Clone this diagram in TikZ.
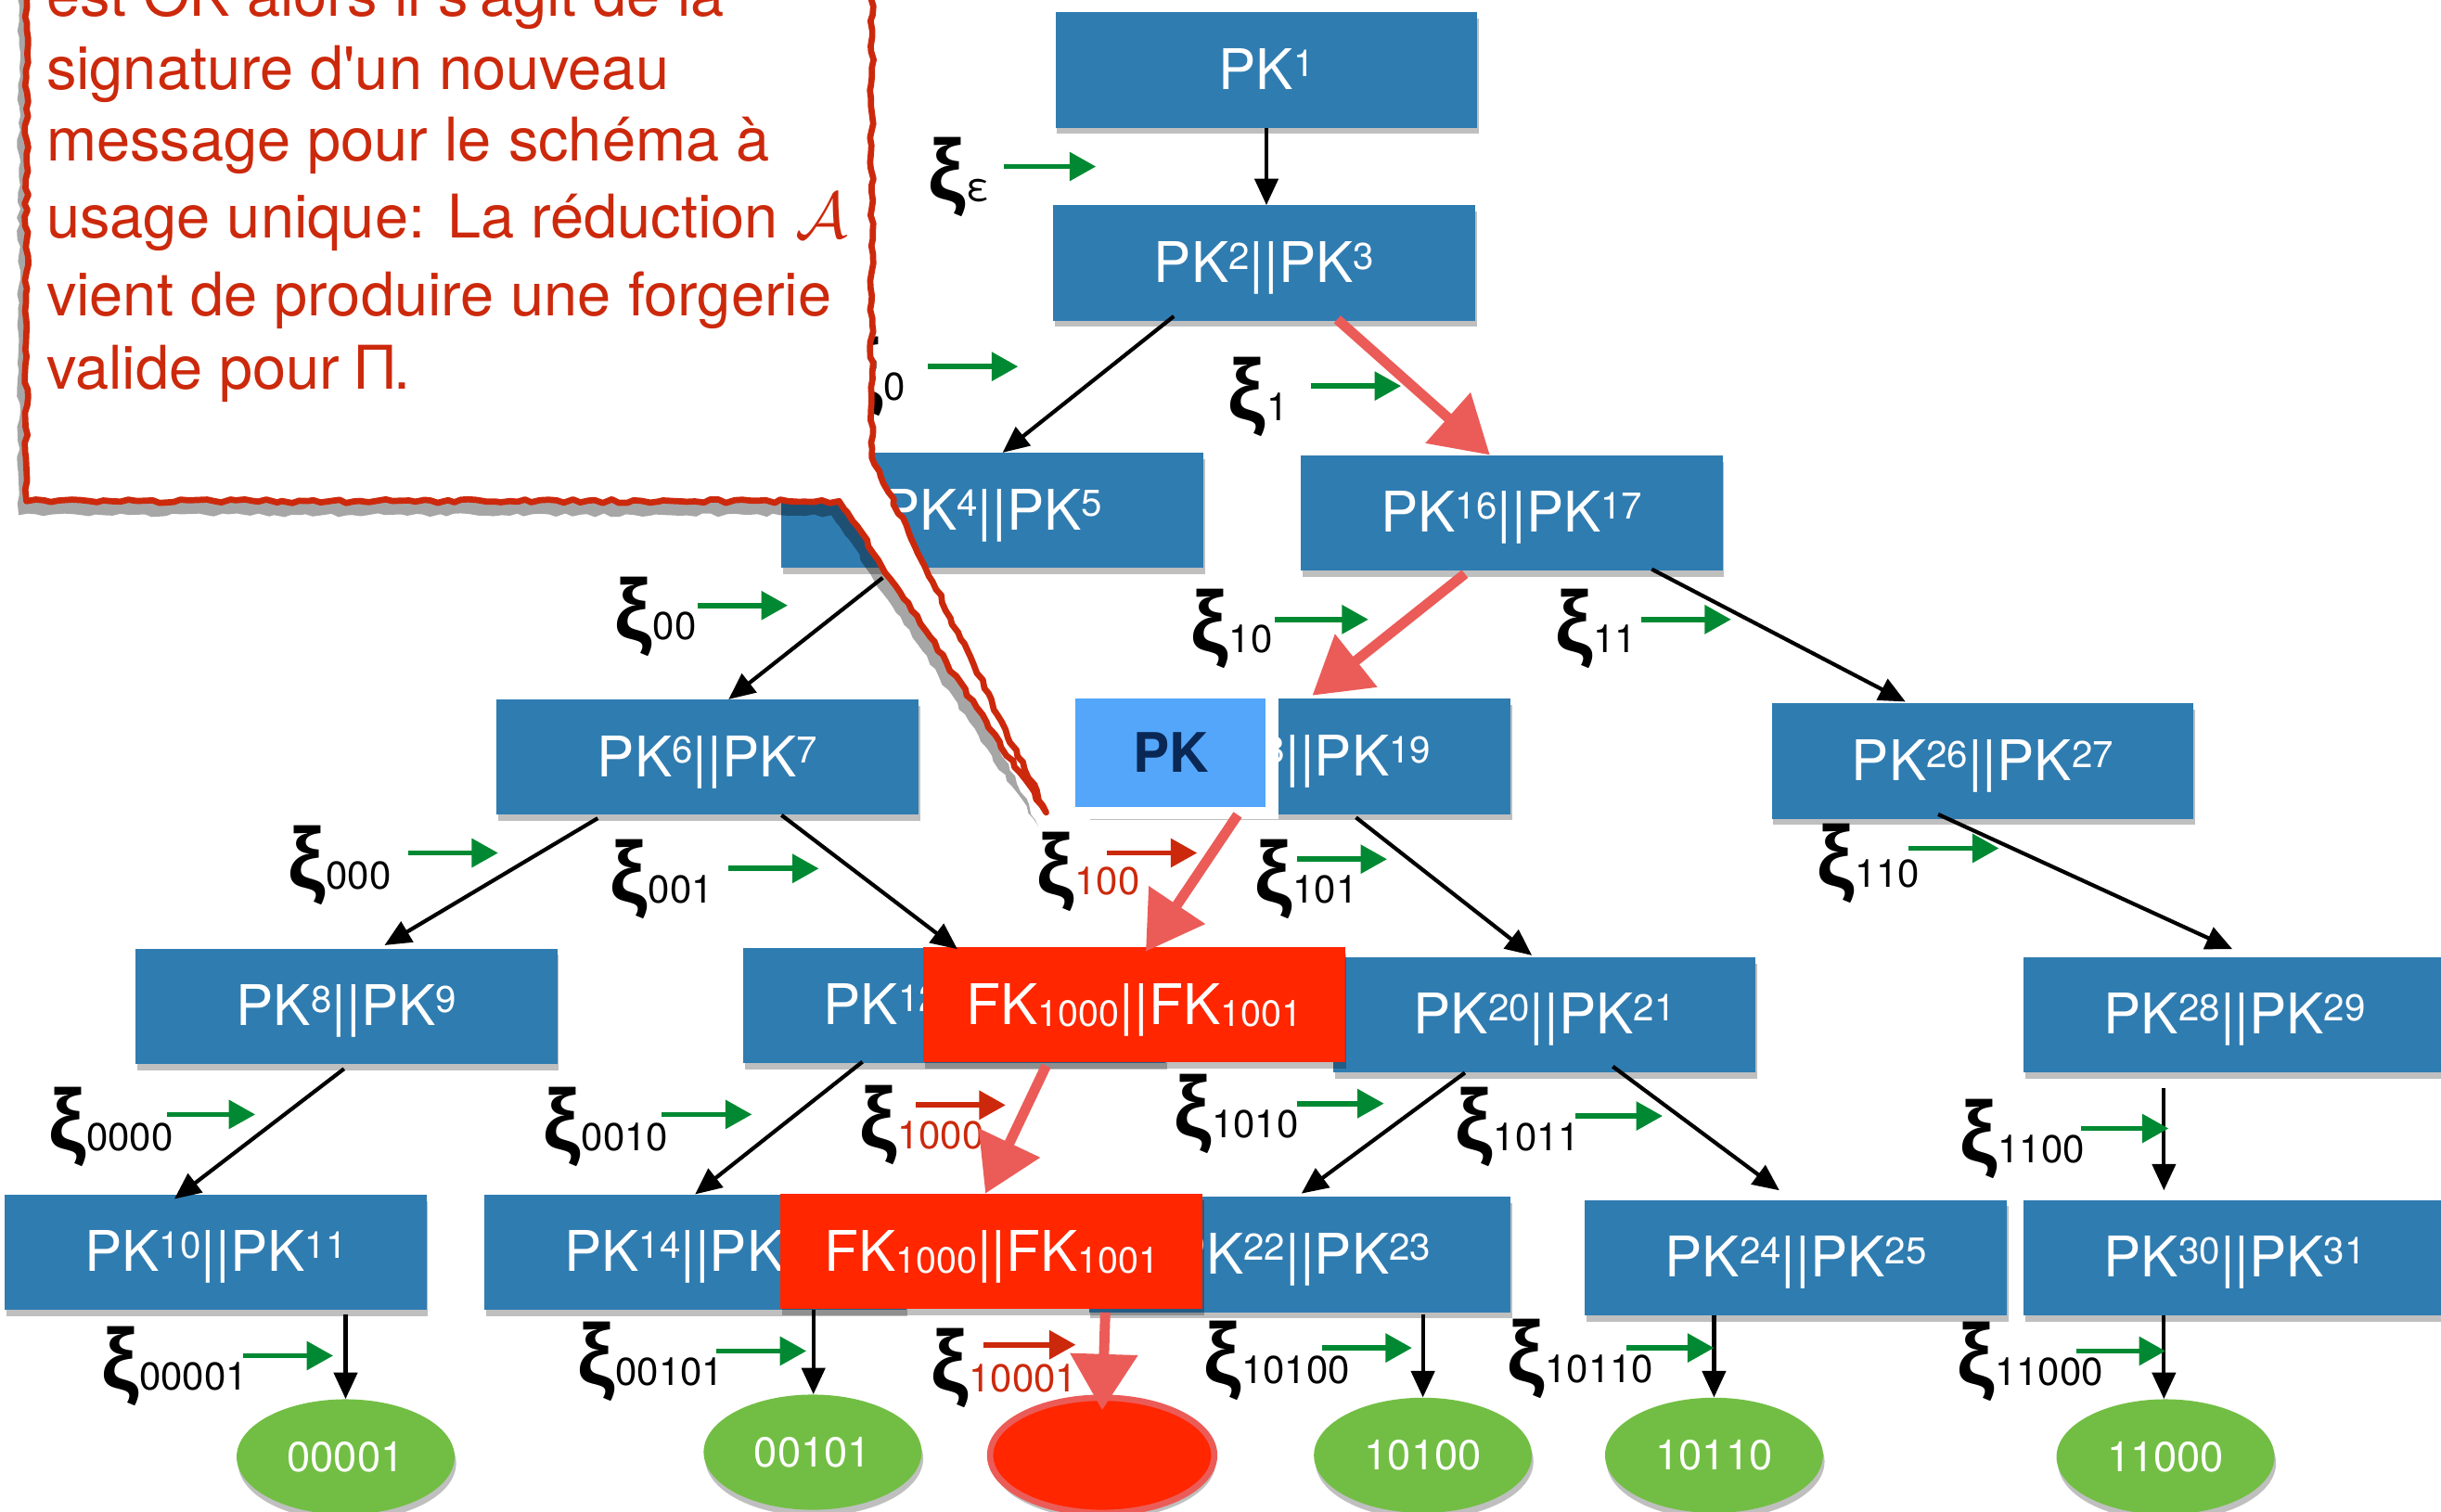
\documentclass[tikz,border=0pt]{standalone}
\usepackage{fontspec}
\setmainfont{TeX Gyre Heros}
\newfontfamily\xifont{Liberation Sans}
\newfontfamily\calfont{TeX Gyre Heros}[Ligatures=TeXOff]
\usetikzlibrary{arrows.meta,shadows,calc,decorations.pathmorphing,shapes.geometric}
\definecolor{pkblue}{RGB}{47,124,177}
\definecolor{fkred}{RGB}{255,38,0}
\definecolor{leafgreen}{RGB}{114,190,68}
\definecolor{arrgreen}{RGB}{0,137,50}
\definecolor{calred}{RGB}{204,41,12}
\definecolor{sketchred}{RGB}{235,92,88}
\definecolor{ovblue}{RGB}{84,166,250}
\definecolor{ovtext}{RGB}{10,40,85}
\newsavebox\xibox
\sbox\xibox{\xifont\bfseries\fontsize{48}{48}\selectfont ξ}
\newcommand\supn[1]{\raisebox{8.6pt}{\fontsize{24}{24}\selectfont #1}}
\newcommand\subn[1]{\raisebox{-1.5pt}{\fontsize{23.5}{24}\selectfont #1}}
\newcommand\pkp[2]{PK\supn{#1}||PK\supn{#2}}
\newcommand\fkp{FK\subn{1000}||FK\subn{1001}}
\newcommand\xig{\raisebox{-10.5pt}{\resizebox*{24pt}{51pt}{\raisebox{\dp\xibox}{\usebox\xibox}}}}
\newcommand\xil[1]{\xig\kern0.5pt{\fontsize{25}{25}\selectfont #1}}
\newcommand\bigA{{\fontsize{10}{12}\selectfont\scalebox{4.2}{$\mathcal{A}$}}}
\begin{document}
\begin{tikzpicture}[x=1pt,y=-1pt,
  boxshadow/.style={drop shadow={shadow xshift=1pt,shadow yshift=-4pt,opacity=0.25,fill=black}},
  pkbox/.style={rectangle,fill=pkblue,text=white,minimum width=271pt,minimum height=74pt,inner sep=0pt,
    text height=33pt,text depth=8pt,font=\fontsize{36}{40}\selectfont,boxshadow},
  fkbox/.style={pkbox,fill=fkred},
  leaf/.style={ellipse,fill=leafgreen,text=white,minimum width=140pt,minimum height=74pt,inner sep=0pt,
    font=\fontsize{27}{30}\selectfont,boxshadow},
  lab/.style={anchor=base west,inner sep=0pt,outer sep=0pt,text=black},
  redlab/.style={lab,text=calred},
  barrow/.style={draw=black,line width=2.5pt,-{Triangle[length=17pt,width=15pt]}},
  garrow/.style={draw=arrgreen,line width=3.4pt,-{Triangle[length=17pt,width=18pt]}},
  rarrow/.style={draw=calred,line width=3.4pt,-{Triangle[length=17pt,width=18pt]}},
  sarrow/.style={draw=sketchred,line width=6.5pt,-{Triangle[length=36pt,width=42pt]}},
  calltext/.style={anchor=base west,inner sep=0pt,text=calred,font=\calfont\fontsize{38.7}{40}\selectfont}
]
\useasboundingbox (0,0) rectangle (1568,971);
\fill[white] (0,0) rectangle (1568,971);
\pgfmathsetseed{7}

% ---- PK boxes
\node[pkbox] (pk1) at (813.5,45) {PK\supn{1}};
\node[pkbox] (pk2) at (812,169) {\pkp{2}{3}};
\node[pkbox] (pk4) at (637.5,328) {\pkp{4}{5}};
\node[pkbox] (pk16) at (971,329.5) {\pkp{16}{17}};
\node[pkbox] (pk6) at (454.5,486.5) {\pkp{6}{7}};
\node[pkbox] (pk18) at (835,486) {\pkp{18}{19}};
\node[pkbox] (pk26) at (1273.5,489) {\pkp{26}{27}};
\node[pkbox] (pk8) at (222.5,646.5) {\pkp{8}{9}};
\node[pkbox] (pk12) at (613,646) {\pkp{12}{13}};
\node[pkbox] (pk20) at (992,652) {\pkp{20}{21}};
\node[pkbox] (pk28) at (1435.5,652) {\pkp{28}{29}};
\node[pkbox] (pk10) at (138.5,804.5) {\pkp{10}{11}};
\node[pkbox] (pk14) at (446.5,804.5) {\pkp{14}{15}};
\node[pkbox] (pk22) at (835,806) {\pkp{22}{23}};
\node[pkbox] (pk24) at (1153.5,808) {\pkp{24}{25}};
\node[pkbox] (pk30) at (1435.5,808) {\pkp{30}{31}};
\node[fkbox] (fk1) at (728.5,645.5) {\fkp};
\node[fkbox] (fk2) at (637,804) {\fkp};

% ---- leaves
\node[leaf] (e1) at (222,936) {00001};
\node[leaf] (e2) at (522,933) {00101};
\node[ellipse,fill=fkred,draw=sketchred,line width=4pt,minimum width=144pt,minimum height=74pt,inner sep=0pt,boxshadow] (blob) at (708,935) {};
\node[leaf] (e3) at (914,935) {10100};
\node[leaf] (e4) at (1101,935) {10110};
\node[leaf] (e5) at (1391,936) {11000};

% ---- black connectors
\draw[barrow] (pk1.south) -- (pk1.south |- pk2.north);
\draw[barrow] ($(pk2.south)+(-58,-3)$) -- ($(pk4.north)+(6.5,0)$);
\draw[barrow] ($(pk4.south)+(-70.5,6)$) -- ($(pk6.north)+(13.5,0)$);
\draw[barrow] ($(pk16.south)+(90,-1)$) -- ($(pk26.north)+(-49.5,-1)$);
\draw[barrow] ($(pk6.south)+(-70.5,2)$) -- ($(pk8.north)+(24.5,-2)$);
\draw[barrow] ($(pk6.south)+(47.5,0)$) -- ($(pk12.north)+(2,1)$);
\draw[barrow] ($(pk18.south)+(36,2)$) -- ($(pk20.north)+(-8,-1)$);
\draw[barrow] ($(pk26.south)+(-28.5,-3)$) -- ($(pk28.north)+(-1.5,-5)$);
\draw[barrow] ($(pk8.south)+(-1.5,3)$) -- ($(pk10.north)+(-26.5,3)$);
\draw[barrow] ($(pk12.south)+(-59,-1)$) -- ($(pk14.north)+(0,0)$);
\draw[barrow] ($(pk20.south)+(-51,0)$) -- ($(pk22.north)+(1,-2)$);
\draw[barrow] ($(pk20.south)+(44,-4)$) -- ($(pk24.north)+(-10.5,-6)$);
\draw[barrow] ($(pk28.south)+(-45.5,10)$) -- ($(pk30.north)+(-45.5,-6)$);
\draw[barrow] ($(pk10.south)+(83.5,3)$) -- (e1.north);
\draw[barrow] ($(pk14.south)+(76,0)$) -- ($(e2.north)+(0.5,0)$);
\draw[barrow] ($(pk22.south)+(79,1)$) -- (e3.north);
\draw[barrow] ($(pk24.south)+(-52.5,0)$) -- (e4.north);
\draw[barrow] ($(pk30.south)+(-45.5,0)$) -- ($(e5.north)+(-1,0)$);

% ---- labels
\node[lab] (lxe) at (596,129) {\xil{ε}};
\node[lab] (l0) at (543,257) {\xil{0}};
\node[lab] (l1) at (789,270) {\xil{1}};
\node[lab] (l00) at (395,411) {\xil{00}};
\node[lab] (l10) at (765,419) {\xil{10}};
\node[lab] (l11) at (999,419) {\xil{11}};
\node[lab] (l000) at (185,571) {\xil{000}};
\node[lab] (l001) at (392,580) {\xil{001}};
\node[redlab] (l100) at (666,575) {\xil{100}};
\node[lab] (l101) at (806,580) {\xil{101}};
\node[lab] (l110) at (1167,570) {\xil{110}};
\node[lab] (l0000) at (31,739) {\xil{0000}};
\node[lab] (l0010) at (349,739) {\xil{0010}};
\node[redlab] (l1000) at (552,738) {\xil{1000}};
\node[lab] (l1010) at (754,731) {\xil{1010}};
\node[lab] (l1011) at (935,739) {\xil{1011}};
\node[lab] (l1100) at (1259,747) {\xil{1100}};
\node[lab] (l00001) at (65,893) {\xil{00001}};
\node[lab] (l00101) at (371,890) {\xil{00101}};
\node[redlab] (l10001) at (598,894) {\xil{10001}};
\node[lab] (l10100) at (773,889) {\xil{10100}};
\node[lab] (l10110) at (968,888) {\xil{10110}};
\node[lab] (l11000) at (1257,890) {\xil{11000}};

% ---- small arrows next to labels
\draw[garrow] (645,107) -- (704,107);
\draw[garrow] (596,235.5) -- (654,235.5);
\draw[garrow] (842,248) -- (900,248);
\draw[garrow] (448,389) -- (506,389);
\draw[garrow] (819,398) -- (879,398);
\draw[garrow] (1054,398) -- (1112,398);
\draw[garrow] (262,548) -- (320,548);
\draw[garrow] (468,558) -- (526,558);
\draw[rarrow] (711,548) -- (769,548);
\draw[garrow] (833,552) -- (891,552);
\draw[garrow] (1226,545) -- (1284,545);
\draw[garrow] (107,716) -- (164,716);
\draw[garrow] (425,716) -- (483,716);
\draw[rarrow] (588,710) -- (646,710);
\draw[garrow] (833,709) -- (889,709);
\draw[garrow] (1012,717) -- (1068,717);
\draw[garrow] (1337,725) -- (1393,725);
\draw[garrow] (156,871) -- (214,871);
\draw[garrow] (460,868) -- (518,868);
\draw[rarrow] (632,864) -- (691,864);
\draw[garrow] (849,866) -- (907,866);
\draw[garrow] (1045,866) -- (1101,866);
\draw[garrow] (1334,868) -- (1391,868);

% ---- highlighted PK
\node[rectangle,fill=ovblue,draw=white,line width=8pt,minimum width=130pt,minimum height=78pt,inner sep=0pt,
  text=ovtext,font=\fontsize{35}{40}\bfseries\selectfont,
  drop shadow={shadow xshift=1pt,shadow yshift=-4pt,opacity=0.3,fill=black}] (pkov) at (752,483.5) {PK};

% ---- sketched red arrows
\draw[sarrow] ($(pk2.south)+(47,-1)$) -- ($(pk16.north)+(-14,0)$);
\draw[sarrow] ($(pk16.south)+(-30,2)$) -- ($(pk18.north)+(8,-2)$);
\draw[sarrow] ($(pkov.south)+(43,-3)$) -- ($(fk1.north)+(7.5,3)$);
\draw[sarrow] ($(fk1.south)+(-56.5,2)$) -- ($(fk2.north)+(-4,0)$);
\draw[sarrow] ($(fk2.south)+(73,2)$) -- ($(blob.north)+(0,10)$);

% ---- callout
\draw[calred,line width=4pt,fill=white,line join=round,
  decorate,decoration={random steps,segment length=5pt,amplitude=1.2pt},
  drop shadow={shadow xshift=-5pt,shadow yshift=-9pt,opacity=0.35,fill=black}]
  (17,-40) -- (17,322) -- (539,322) -- (672,522) -- (560,294) -- (560,-40) -- cycle;
\node[calltext] (c0) at (29.6,10.6) {est OK alors il s'agit de la};
\node[calltext] (c1) at (29.6,57.5) {signature d'un nouveau};
\node[calltext] (c2) at (29.6,103.6) {message pour le schéma à};
\node[calltext] (c3) at (29.6,152.6) {usage unique: La réduction \bigA};
\node[calltext] (c4) at (29.6,203) {vient de produire une forgerie};
\node[calltext] (c5) at (29.6,250) {valide pour Π.};
\end{tikzpicture}
\end{document}
